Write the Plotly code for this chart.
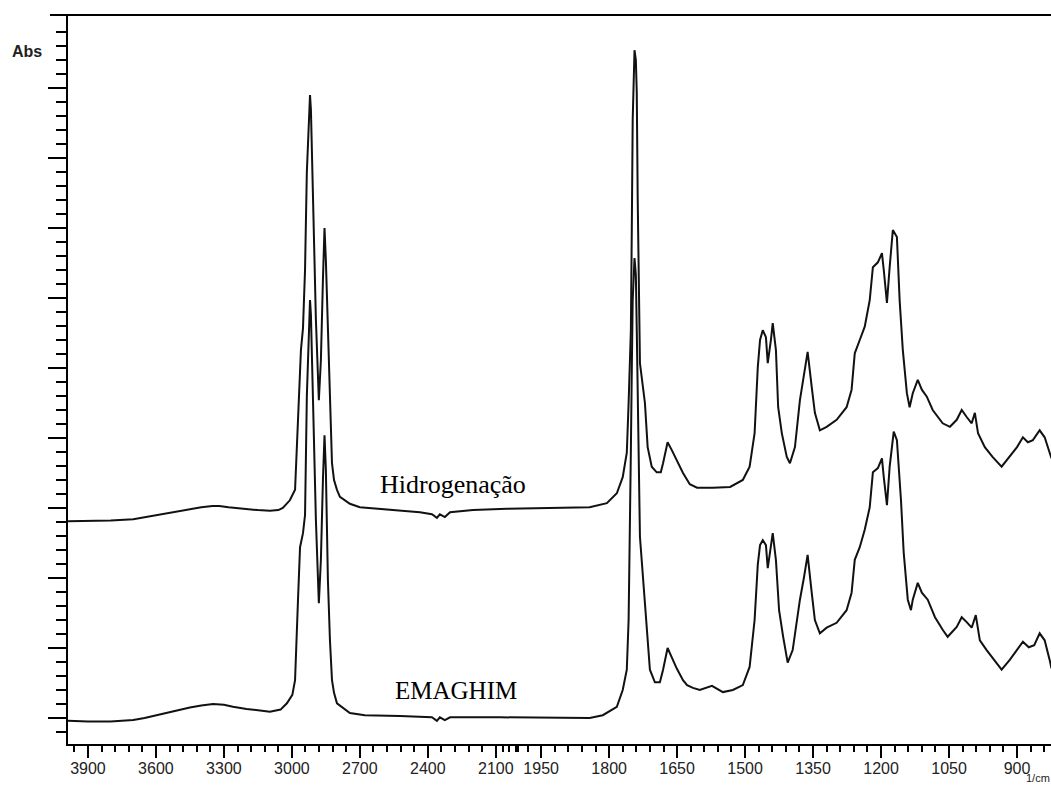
import numpy as np
import plotly.graph_objects as go

# FTIR spectra (absorbance vs wavenumber, 1/cm)
wn_hidrogenacao = [
    3988, 3900, 3800, 3700, 3650, 3600, 3550, 3500, 3450, 3400,
    3350, 3320, 3280, 3220, 3150, 3097, 3060, 3040, 3009, 2986,
    2978, 2969, 2960, 2951, 2942,
    2934, 2925, 2920, 2916, 2907, 2894, 2881, 2872, 2863, 2856,
    2850, 2841, 2832, 2823, 2814, 2801, 2788, 2744, 2700, 2567,
    2435, 2382, 2360, 2347, 2325, 2302, 2201, 2051, 1953, 1880,
    1843, 1805, 1783, 1770, 1761, 1757, 1752, 1750, 1748, 1744,
    1741, 1739, 1737, 1732, 1721, 1715, 1706, 1695, 1686, 1681,
    1671, 1662, 1651, 1637, 1622, 1606, 1571, 1533, 1505, 1490,
    1479, 1472, 1467, 1461, 1454, 1450, 1443, 1439, 1432, 1427,
    1419, 1408, 1401, 1390, 1379, 1370, 1362, 1353, 1346, 1335,
    1320, 1298, 1276, 1265, 1258, 1247, 1236, 1225, 1218, 1207,
    1198, 1194, 1187, 1181, 1174, 1165, 1159, 1152, 1143, 1137,
    1130, 1119, 1110, 1099, 1086, 1064, 1048, 1033, 1022, 1011,
    1000, 993, 986, 971, 954, 934, 916, 900, 887, 876,
    865, 850, 839, 828, 824,
]
abs_hidrogenacao = [
    0.281, 0.281, 0.282, 0.284, 0.287, 0.290, 0.293, 0.296, 0.298, 0.301,
    0.303, 0.303, 0.301, 0.299, 0.297, 0.296, 0.297, 0.300, 0.311, 0.326,
    0.387, 0.454, 0.526, 0.557, 0.640,
    0.780, 0.850, 0.890, 0.869, 0.740, 0.569, 0.454, 0.511, 0.626, 0.700,
    0.654, 0.554, 0.483, 0.364, 0.340, 0.326, 0.316, 0.306, 0.301, 0.297,
    0.294, 0.291, 0.286, 0.291, 0.287, 0.294, 0.297, 0.299, 0.300, 0.301,
    0.301, 0.307, 0.321, 0.344, 0.379, 0.450, 0.554, 0.697, 0.854, 0.954,
    0.940, 0.893, 0.744, 0.507, 0.450, 0.387, 0.359, 0.351, 0.351, 0.364,
    0.394, 0.383, 0.369, 0.350, 0.334, 0.329, 0.329, 0.330, 0.340, 0.359,
    0.407, 0.501, 0.540, 0.554, 0.544, 0.507, 0.540, 0.564, 0.526, 0.444,
    0.407, 0.373, 0.364, 0.387, 0.454, 0.493, 0.523, 0.473, 0.436, 0.411,
    0.416, 0.426, 0.444, 0.469, 0.521, 0.540, 0.559, 0.597, 0.644, 0.651,
    0.664, 0.640, 0.593, 0.644, 0.697, 0.687, 0.597, 0.526, 0.464, 0.444,
    0.464, 0.483, 0.469, 0.459, 0.440, 0.421, 0.416, 0.426, 0.440, 0.430,
    0.421, 0.436, 0.407, 0.387, 0.373, 0.359, 0.373, 0.387, 0.401, 0.394,
    0.397, 0.411, 0.401, 0.379, 0.371,
]

wn_emaghim = [
    3988, 3900, 3800, 3700, 3650, 3600, 3550, 3500, 3450, 3400,
    3348, 3300, 3260, 3200, 3141,
    3097, 3050, 3022, 2998, 2986, 2973, 2964, 2951, 2942, 2934, 2925,
    2920, 2916, 2907, 2894, 2881, 2872, 2863, 2856, 2850, 2841,
    2832, 2823, 2814, 2801, 2744, 2678, 2523, 2382, 2360, 2347,
    2325, 2302, 2081, 1953, 1880, 1843, 1814, 1783, 1770, 1761,
    1757, 1754, 1752, 1750, 1748, 1744, 1741, 1739, 1737, 1732,
    1721, 1710, 1699, 1688, 1681, 1671, 1662, 1651, 1637, 1628,
    1615, 1600, 1573, 1549, 1527, 1505, 1490, 1479, 1472, 1467,
    1461, 1454, 1450, 1443, 1439, 1432, 1425, 1416, 1406, 1395,
    1379, 1370, 1362, 1353, 1346, 1335, 1320, 1298, 1276, 1265,
    1258, 1247, 1236, 1225, 1218, 1207, 1198, 1194, 1187, 1181,
    1172, 1165, 1156, 1150, 1141, 1134, 1130, 1119, 1110, 1097,
    1081, 1064, 1053, 1033, 1022, 1011, 1000, 991, 982, 967,
    954, 934, 916, 900, 887, 874, 862, 850, 839, 828,
    824,
]
abs_emaghim = [
    -0.004, -0.005, -0.005, -0.003, 0.000, 0.004, 0.008, 0.012, 0.015, 0.018,
    0.020, 0.019, 0.016, 0.013, 0.011,
    0.009, 0.012, 0.021, 0.033, 0.054, 0.169, 0.244, 0.264, 0.290, 0.460, 0.560,
    0.597, 0.576, 0.454, 0.283, 0.164, 0.226, 0.340, 0.404, 0.354, 0.197,
    0.111, 0.054, 0.036, 0.021, 0.007, 0.004, 0.003, 0.001, -0.004, 0.001,
    -0.003, 0.001, 0.001, 0.001, 0.001, 0.000, 0.004, 0.016, 0.040, 0.069,
    0.140, 0.259, 0.383, 0.497, 0.597, 0.657, 0.633, 0.554, 0.454, 0.259,
    0.164, 0.069, 0.051, 0.051, 0.069, 0.100, 0.087, 0.071, 0.054, 0.047,
    0.043, 0.040, 0.046, 0.037, 0.040, 0.047, 0.073, 0.140, 0.219, 0.247,
    0.254, 0.247, 0.214, 0.247, 0.264, 0.226, 0.154, 0.116, 0.079, 0.097,
    0.169, 0.201, 0.233, 0.179, 0.140, 0.121, 0.129, 0.136, 0.154, 0.179,
    0.226, 0.244, 0.269, 0.301, 0.351, 0.357, 0.371, 0.344, 0.304, 0.359,
    0.409, 0.397, 0.311, 0.236, 0.169, 0.154, 0.169, 0.193, 0.179, 0.169,
    0.144, 0.126, 0.116, 0.130, 0.144, 0.137, 0.129, 0.147, 0.111, 0.097,
    0.086, 0.069, 0.083, 0.097, 0.109, 0.101, 0.104, 0.121, 0.111, 0.083,
    0.071,
]

x_tick_labels = [3900, 3600, 3300, 3000, 2700, 2400, 2100,
                 1950, 1800, 1650, 1500, 1350, 1200, 1050, 900]

# Axis has a 2x expansion below 2000 1/cm
BREAK = 2000.0


def axis_x(w):
    w = np.asarray(w, dtype=float)
    return np.where(w >= BREAK, w, BREAK - 2.0 * (BREAK - w))


# minor ticks: every 60 above the break, every 30 below it
minor_wn = [3960] + [w for w in range(3840, 2100, -60) if w % 300 != 0]
minor_wn += [2070, 2040, 2010, 2000]
minor_wn += [w for w in range(1980, 800, -30) if w % 150 != 0]

y_major = [round(0.1 * k, 2) for k in range(0, 10)]
y_minor = [-0.02] + [round(0.02 * k, 2) for k in range(1, 50) if k % 5 != 0]

line_style = dict(color="#111111", width=2)

fig = go.Figure()
fig.add_trace(go.Scatter(x=axis_x(wn_hidrogenacao), y=abs_hidrogenacao,
                         mode="lines", line=line_style, name="Hidrogenação"))
fig.add_trace(go.Scatter(x=axis_x(wn_emaghim), y=abs_emaghim,
                         mode="lines", line=line_style, name="EMAGHIM"))

tick_font = dict(family="Liberation Sans, Arial, sans-serif", size=16, color="#222222")
serif = "Liberation Serif, Times New Roman, serif"

fig.update_layout(
    width=1051, height=785,
    margin=dict(l=68, r=0, t=15, b=41),
    paper_bgcolor="white", plot_bgcolor="white",
    showlegend=False,
    xaxis=dict(
        range=[3988, -350],
        tickmode="array",
        tickvals=axis_x(x_tick_labels).tolist(),
        ticktext=[str(v) for v in x_tick_labels],
        ticks="outside", ticklen=12, tickwidth=2, tickcolor="black",
        ticklabelstandoff=-3,
        showline=True, linewidth=2, linecolor="black",
        showgrid=False, zeroline=False, automargin=False,
        tickfont=tick_font,
        minor=dict(tickmode="array", tickvals=axis_x(minor_wn).tolist(),
                   ticks="outside", ticklen=6, tickwidth=2,
                   tickcolor="black", showgrid=False),
    ),
    yaxis=dict(
        range=[-26 / 700, 703 / 700],
        tickmode="array", tickvals=y_major,
        showticklabels=False,
        ticks="outside", ticklen=18, tickwidth=2, tickcolor="black",
        showline=True, linewidth=2, linecolor="black",
        showgrid=False, zeroline=False, automargin=False,
        minor=dict(tickmode="array", tickvals=y_minor,
                   ticks="outside", ticklen=10, tickwidth=2,
                   tickcolor="black", showgrid=False),
    ),
    shapes=[
        dict(type="line", xref="paper", yref="paper",
             x0=-18 / 983, x1=1.02, y0=1, y1=1,
             line=dict(color="black", width=2)),
    ],
    annotations=[
        dict(text="Hidrogenação", x=float(axis_x(2289)), y=0.334,
             xref="x", yref="y", showarrow=False,
             font=dict(family=serif, size=26, color="black")),
        dict(text="EMAGHIM", x=float(axis_x(2276)), y=0.040,
             xref="x", yref="y", showarrow=False,
             font=dict(family=serif, size=25, color="black")),
        dict(text="<b>Abs</b>", x=-41 / 983, y=693 / 729,
             xref="paper", yref="paper", showarrow=False,
             xanchor="center", yanchor="middle",
             font=dict(family="Liberation Sans, Arial, sans-serif",
                       size=16, color="#222222")),
        dict(text="1/cm", x=1.0, y=-41 / 729,
             xref="paper", yref="paper", showarrow=False,
             xanchor="right", yanchor="bottom", borderpad=0,
             font=dict(family="Liberation Sans, Arial, sans-serif",
                       size=11, color="#222222")),
    ],
)

fig.write_html("out.html")
